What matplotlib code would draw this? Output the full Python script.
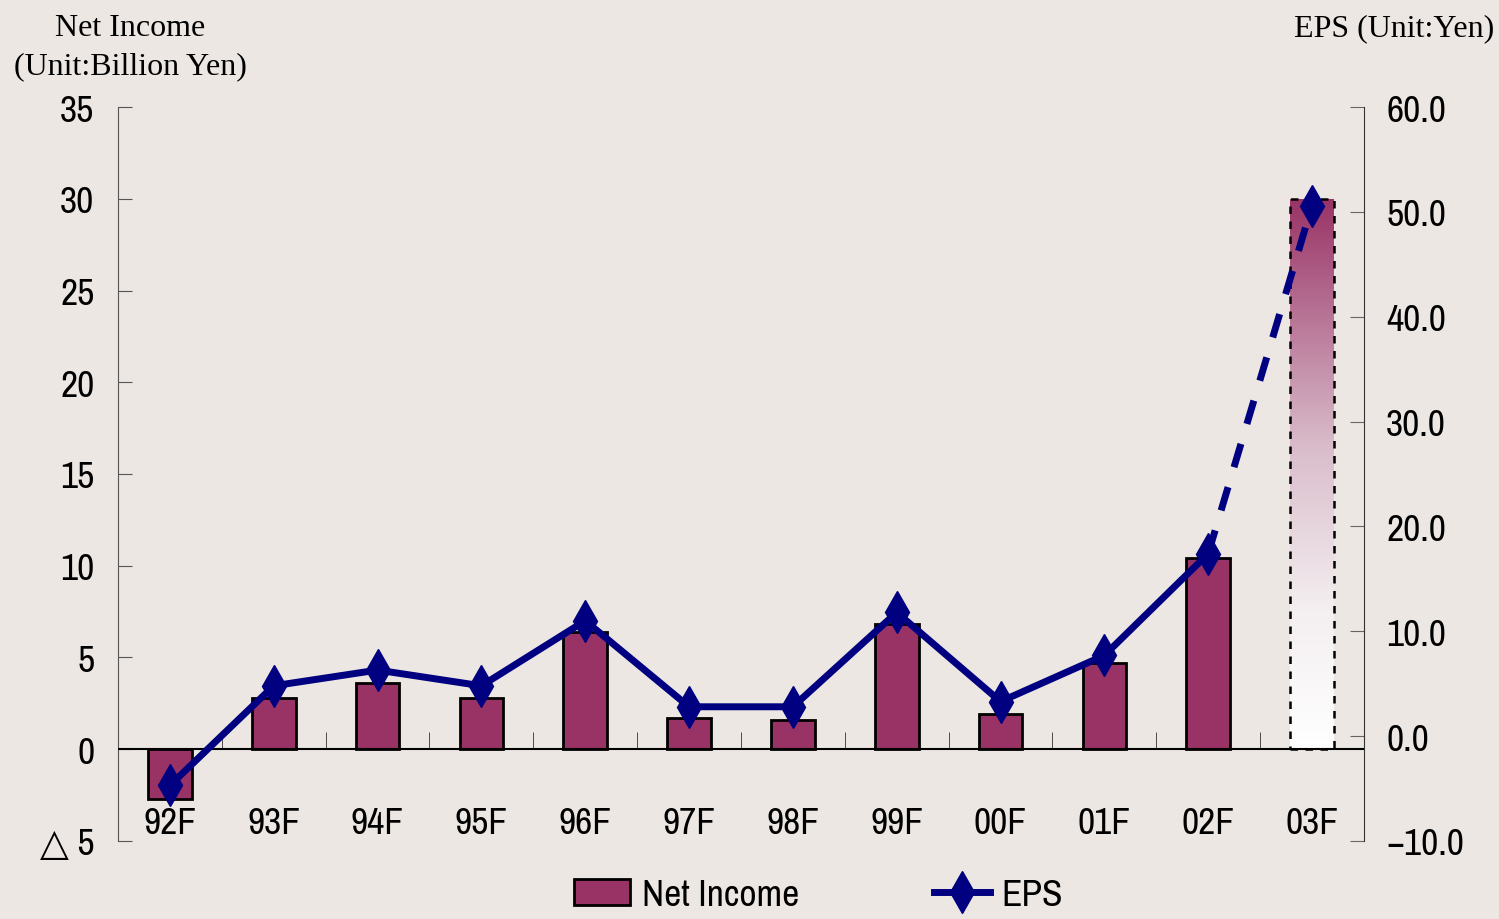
import numpy as np
import matplotlib.pyplot as plt
from matplotlib.colors import LinearSegmentedColormap
from matplotlib.lines import Line2D
from matplotlib.patches import Patch

years = ["92F", "93F", "94F", "95F", "96F", "97F", "98F", "99F", "00F", "01F", "02F", "03F"]
net_income = [-2.7, 2.8, 3.6, 2.8, 6.4, 1.7, 1.6, 6.8, 1.9, 4.7, 10.4, 30.0]
eps = [-4.7, 4.8, 6.3, 4.8, 11.0, 2.8, 2.8, 11.8, 3.3, 7.7, 17.4, 50.6]
left_ticks = [-5, 0, 5, 10, 15, 20, 25, 30, 35]
left_labels = ["\u25b3 5", "0", "5", "10", "15", "20", "25", "30", "35"]
right_ticks = [-10, 0, 10, 20, 30, 40, 50, 60]

bg = "#ECE7E3"
maroon = "#993366"
navy = "#000080"
narrow = ["Archivo Narrow", "DejaVu Sans"]
serif = ["Liberation Serif", "DejaVu Serif"]
fs = 27

fig = plt.figure(figsize=(14.99, 9.2), dpi=100, facecolor=bg)
ax = fig.add_axes([0.0787, 0.0848, 0.8312, 0.7978])
ax.set_facecolor(bg)
x = np.arange(len(years))

# bars (last one is a forecast, drawn with a gradient)
ax.bar(x[:-1], net_income[:-1], width=0.42, color=maroon, edgecolor="black", linewidth=2, zorder=2)
fc = ax.bar(x[-1], net_income[-1], width=0.42, facecolor="none", edgecolor="black",
            linewidth=1.8, linestyle=(0, (3, 3)), zorder=3)[0]
cmap = LinearSegmentedColormap.from_list(
    "fade", [(0, "white"), (0.25, "#F4EFF1"), (0.55, "#D9BCCA"), (1, maroon)])
grad = np.linspace(0, 1, 256).reshape(-1, 1)
im = ax.imshow(grad, cmap=cmap, aspect="auto", origin="lower", zorder=2,
               extent=(x[-1] - 0.21, x[-1] + 0.21, 0, net_income[-1]))
im.set_clip_path(fc)

ax.axhline(0, color="black", linewidth=1.5, zorder=4)
ax.set_xlim(-0.5, len(years) - 0.5)
ax.set_ylim(-5, 35)
ax.set_yticks(left_ticks)
ax.set_yticklabels(left_labels, family=narrow, fontsize=fs)
ax.tick_params(axis="y", direction="in", length=10, pad=17, color="#555555")

ax.spines["bottom"].set_position(("data", 0))
ax.spines["bottom"].set_visible(False)
ax.spines["top"].set_visible(False)
ax.spines["right"].set_visible(False)
ax.spines["left"].set_color("#555555")
ax.set_xticks(x)
ax.set_xticklabels(years, family=narrow, fontsize=fs)
ax.set_xticks(x[:-1] + 0.5, minor=True)
ax.tick_params(axis="x", which="major", length=0, pad=41)
ax.tick_params(axis="x", which="minor", direction="in", length=12, color="#333333")

ax2 = ax.twinx()
ax2.set_ylim(-10, 60)
ax2.set_yticks(right_ticks)
ax2.set_yticklabels([f"{v:.1f}".replace("-", "\u2212") for v in right_ticks], family=narrow, fontsize=fs)
ax2.tick_params(axis="y", direction="in", length=10, pad=16, color="#666666")
for s in ["top", "left", "bottom"]:
    ax2.spines[s].set_visible(False)
ax2.spines["right"].set_color("#333333")

ax2.plot(x[-2:], eps[-2:], color=navy, linewidth=5, linestyle=(0, (3.5, 3)), zorder=5)
ax2.plot(x[:-1], eps[:-1], color=navy, linewidth=5, solid_capstyle="butt", zorder=5)
ax2.plot(x, eps, linestyle="none", marker="d", markersize=21, color=navy, zorder=6)

fig.text(0.087, 0.985, "Net Income\n(Unit:Billion Yen)", ha="center", va="top",
         family=serif, fontsize=23, linespacing=1.45)
fig.text(0.997, 0.985, "EPS (Unit:Yen)", ha="right", va="top", family=serif, fontsize=23)

handles = [Patch(facecolor=maroon, edgecolor="black", linewidth=2),
           Line2D([], [], color=navy, linewidth=5, marker="d", markersize=21)]
fig.legend(handles, ["Net Income", "EPS"], loc="lower center", bbox_to_anchor=(0.546, -0.028),
           ncol=2, frameon=False, prop={"family": narrow, "size": fs},
           columnspacing=3.6, handlelength=1.5, handletextpad=0.3)

fig.savefig("out.png", dpi=100, facecolor=bg)
